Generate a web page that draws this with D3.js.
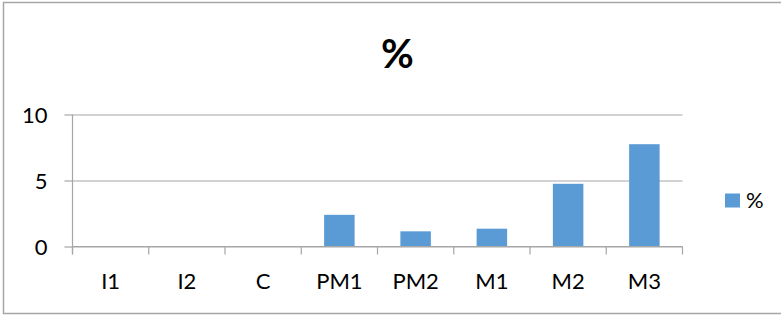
<!DOCTYPE html>
<html>
<head>
<meta charset="utf-8">
<script src="https://d3js.org/d3.v7.min.js"></script>
<style>
  body { margin: 0; background: #fff; }
  svg text { font-family: Lato, "Open Sans", sans-serif; fill: #000; }
  .gridlines line { stroke: #a6a6a6; stroke-width: 1.2; }
  .gridlines path { display: none; }
</style>
</head>
<body>
<script>
// chart data
var categories = ["I1", "I2", "C", "PM1", "PM2", "M1", "M2", "M3"];
var percentValues = [0, 0, 0, 2.4, 1.15, 1.35, 4.75, 7.75];
var yTicks = [0, 5, 10];
var seriesName = "%";
var titleText = "%";

var width = 781, height = 315;
var barColor = "#5b9bd5";

var svg = d3.select("body").append("svg")
    .attr("width", width)
    .attr("height", height);

// outer frame
svg.append("rect")
    .attr("x", 3.5)
    .attr("y", 2.5)
    .attr("width", width + 10)
    .attr("height", 311)
    .attr("fill", "#fff")
    .attr("stroke", "#a6a6a6")
    .attr("stroke-width", 1.5);

var plot = { left: 72.5, right: 682.5, top: 114.5, bottom: 246.5 };

var xScale = d3.scaleBand()
    .domain(categories)
    .range([plot.left, plot.right])
    .paddingInner(0.6)
    .paddingOuter(0.3);

var yScale = d3.scaleLinear()
    .domain([0, 10])
    .range([plot.bottom, plot.top]);

// horizontal gridlines
var yGridlines = d3.axisLeft()
    .scale(yScale)
    .tickValues(yTicks)
    .tickFormat("")
    .tickSize(-(plot.right - plot.left));

svg.append("g")
    .attr("class", "gridlines")
    .attr("transform", "translate(" + plot.left + ",0)")
    .call(yGridlines);

// y axis
var yAxis = d3.axisLeft(yScale)
    .tickValues(yTicks)
    .tickSize(8)
    .tickPadding(17);

var yG = svg.append("g")
    .attr("transform", "translate(" + plot.left + ",0)")
    .call(yAxis);
yG.select(".domain").attr("stroke", "#a6a6a6").attr("stroke-width", 1.2)
    .attr("d", "M0," + plot.top + "V" + (plot.bottom + 8));
yG.selectAll(".tick line").attr("stroke", "#a6a6a6").attr("stroke-width", 1.2);
yG.selectAll(".tick text")
    .style("font-size", "22px")
    .attr("dy", "0.36em");

// bars
svg.append("g").selectAll("rect")
    .data(percentValues)
    .enter()
    .append("rect")
    .attr("x", function (d, i) { return xScale(categories[i]); })
    .attr("y", function (d) { return yScale(d); })
    .attr("width", xScale.bandwidth())
    .attr("height", function (d) { return plot.bottom - yScale(d); })
    .attr("fill", barColor);

// x axis: ticks between categories
var step = xScale.step();
var xAxisG = svg.append("g");
xAxisG.append("line")
    .attr("x1", plot.left).attr("x2", plot.right)
    .attr("y1", plot.bottom).attr("y2", plot.bottom)
    .attr("stroke", "#a6a6a6").attr("stroke-width", 1.2);

xAxisG.selectAll(".xtick")
    .data(d3.range(categories.length + 1))
    .enter()
    .append("line")
    .attr("class", "xtick")
    .attr("x1", function (i) { return plot.left + i * step; })
    .attr("x2", function (i) { return plot.left + i * step; })
    .attr("y1", plot.bottom)
    .attr("y2", plot.bottom + 8)
    .attr("stroke", "#a6a6a6").attr("stroke-width", 1.2);

xAxisG.selectAll(".xlabel")
    .data(categories)
    .enter()
    .append("text")
    .attr("class", "xlabel")
    .attr("x", function (d) { return xScale(d) + xScale.bandwidth() / 2; })
    .attr("y", 289)
    .attr("text-anchor", "middle")
    .style("font-size", "22px")
    .text(function (d) { return d; });

// title
svg.append("text")
    .attr("x", 397.5)
    .attr("y", 68)
    .attr("text-anchor", "middle")
    .style("font-size", "40px")
    .style("font-weight", "bold")
    .text(titleText);

// legend
var legend = svg.append("g");
legend.append("rect")
    .attr("x", 725)
    .attr("y", 193.5)
    .attr("width", 15)
    .attr("height", 14)
    .attr("fill", barColor);
legend.append("text")
    .attr("x", 746)
    .attr("y", 208)
    .style("font-size", "22px")
    .text(seriesName);
</script>
</body>
</html>
